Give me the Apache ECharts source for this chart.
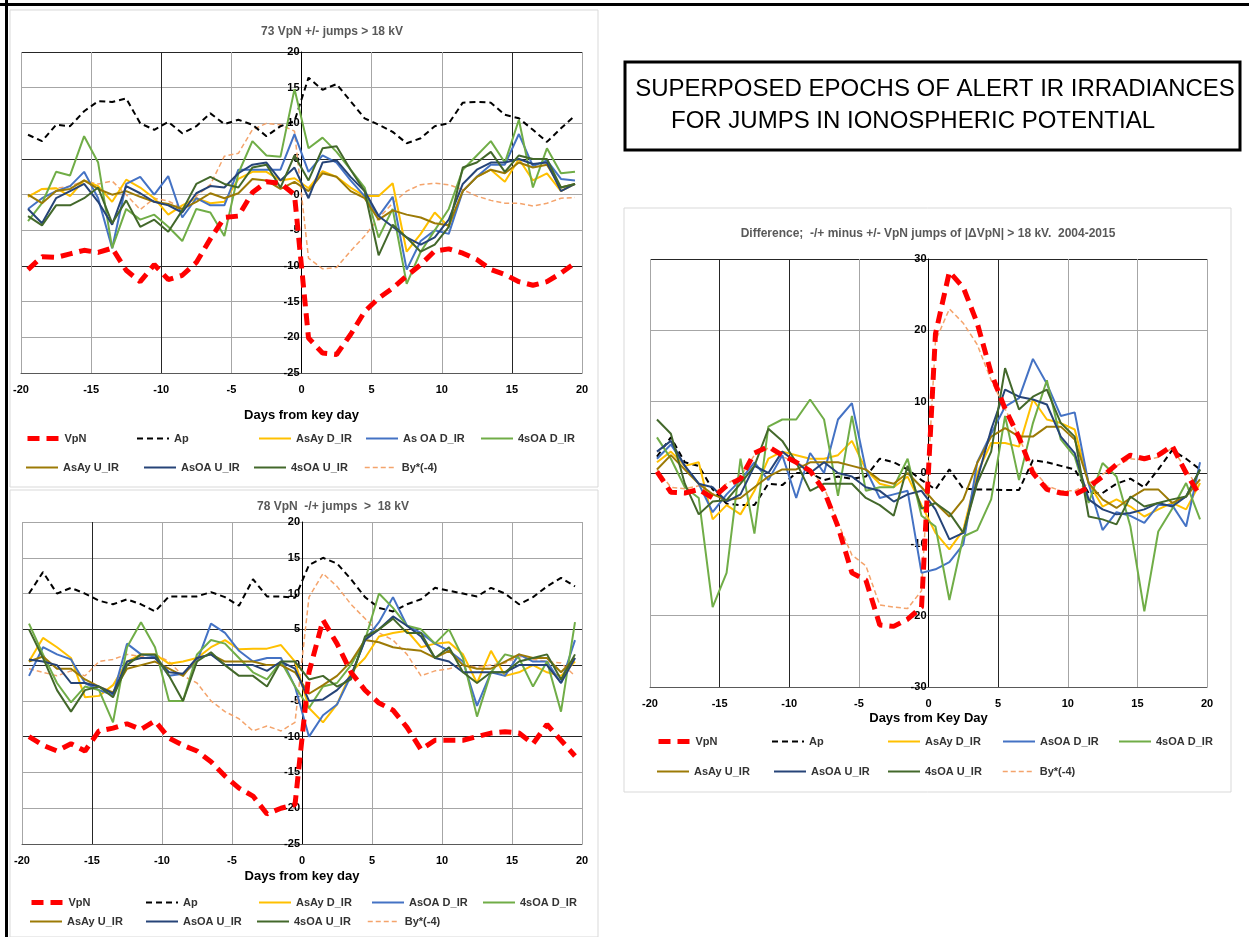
<!DOCTYPE html>
<html><head><meta charset="utf-8">
<script src="https://cdn.jsdelivr.net/npm/echarts@6/dist/echarts.min.js"></script>
<style>html,body{margin:0;padding:0;background:#fff}#c{width:1249px;height:937px}</style>
</head><body><div id="c"></div>
<script>
// ---------- DATA ----------
const days = [-19.5,-18.5,-17.5,-16.5,-15.5,-14.5,-13.5,-12.5,-11.5,-10.5,-9.5,-8.5,-7.5,-6.5,-5.5,-4.5,-3.5,-2.5,-1.5,-0.5,
              0.5,1.5,2.5,3.5,4.5,5.5,6.5,7.5,8.5,9.5,10.5,11.5,12.5,13.5,14.5,15.5,16.5,17.5,18.5,19.5];

const namesP1 = ['VpN','Ap','AsAy D_IR','As OA D_IR','4sOA D_IR','AsAy U_IR','AsOA U_IR','4sOA U_IR','By*(-4)'];
const namesP2 = ['VpN','Ap','AsAy D_IR','AsOA D_IR','4sOA D_IR','AsAy U_IR','AsOA U_IR','4sOA U_IR','By*(-4)'];
const namesP3 = namesP2;

const titleP1 = '73 VpN +/- jumps > 18 kV';
const titleP2 = '78 VpN  -/+ jumps  >  18 kV';
const titleP3 = 'Difference;  -/+ minus +/- VpN jumps of |\u0394VpN| > 18 kV.  2004-2015';
const xNameP12 = 'Days from key day';
const xNameP3 = 'Days from Key Day';
const bigTitle1 = 'SUPERPOSED EPOCHS OF ALERT IR IRRADIANCES';
const bigTitle2 = 'FOR JUMPS IN IONOSPHERIC POTENTIAL';

// Panel 1: 73 VpN +/- jumps
const vpn1   = [-10.5,-8.7,-8.8,-8.3,-7.8,-8.1,-7.5,-10.6,-12.2,-9.8,-11.9,-11.3,-9.5,-6.2,-3.2,-3.0,0.3,1.8,1.6,0.0,
                -20.1,-22.2,-22.4,-19.6,-16.4,-14.5,-13.1,-11.4,-9.8,-7.9,-7.6,-8.2,-9.1,-10.5,-11.2,-12.2,-12.7,-12.2,-11.0,-9.6];
const ap1    = [8.4,7.5,9.8,9.6,11.7,13.1,13.0,13.5,10.0,9.1,10.2,8.6,9.6,11.4,9.9,10.5,9.8,8.2,9.6,10.3,
                16.4,14.7,15.5,13.1,10.7,9.8,8.8,7.2,7.9,9.6,10.0,12.9,13.0,12.9,11.2,10.7,9.1,7.4,9.3,11.1];
const asayD1 = [-0.3,0.8,0.9,-0.2,2.0,1.2,-1.0,2.1,1.0,-0.5,-2.8,-1.5,-0.5,-1.2,-1.0,2.2,3.2,3.2,2.0,2.3,
                0.9,3.3,2.5,1.0,-0.2,-0.2,1.6,-8.0,-5.5,-2.5,-4.5,0.5,2.5,3.5,1.8,5.0,2.0,3.0,0.5,1.5];
const asoaD1 = [-2.0,-0.5,0.5,1.2,3.2,-0.5,-7.5,1.5,2.5,0.0,2.6,-3.2,-0.5,-1.5,-1.5,3.5,3.5,3.5,3.5,8.5,
                3.2,5.5,4.5,2.0,-0.2,-3.0,-0.3,-10.5,-6.5,-5.0,-5.5,0.5,2.5,4.2,4.2,8.5,4.0,4.8,2.2,2.0];
const fsoaD1 = [-3.7,-1.2,3.2,2.7,8.2,4.5,-7.5,-2.0,-3.5,-2.8,-4.5,-6.5,-2.0,-2.5,-5.8,3.0,7.5,5.5,5.3,14.8,
                6.5,8.0,6.0,3.5,1.0,-6.0,-2.0,-12.5,-8.0,-5.0,-2.0,3.5,5.5,7.5,4.5,10.5,1.0,6.5,3.0,3.2];
const asayU1 = [0.0,-1.2,0.5,0.8,2.0,0.8,0.0,0.5,-0.3,-1.0,-1.3,-2.0,-1.0,0.2,-0.5,0.2,2.2,2.0,0.8,1.8,
                0.5,3.0,2.5,0.5,-0.5,-3.5,-2.2,-2.8,-3.2,-4.0,-4.3,0.5,2.5,3.5,3.0,4.5,3.8,4.2,1.0,1.5];
const asoaU1 = [-2.0,-4.0,-0.5,0.5,1.5,-1.0,-4.2,1.2,0.2,-1.0,-1.5,-2.5,0.2,1.2,1.0,3.0,4.2,4.5,2.0,3.8,
                -0.5,4.5,4.8,2.5,0.5,-3.0,-4.5,-6.0,-7.0,-6.0,-3.5,1.5,3.5,4.5,4.5,5.0,4.3,4.5,0.5,1.5];
const fsoaU1 = [-3.0,-4.3,-1.5,-1.5,-0.5,1.0,-4.0,-0.8,-4.5,-3.5,-5.2,-2.2,1.5,2.5,1.5,1.0,3.8,4.2,1.0,5.5,
                2.0,6.5,6.8,3.5,0.5,-8.5,-4.2,-6.0,-8.0,-7.0,-4.5,3.8,4.5,6.0,3.2,5.5,5.0,5.0,1.0,1.5];
const by1    = [-0.2,0.7,0.9,1.2,1.9,1.5,1.9,0.0,-2.1,-0.5,-0.9,-1.9,-0.2,1.4,5.4,5.8,9.1,10.0,9.8,8.9,
                -8.9,-10.4,-10.2,-7.9,-5.8,-3.3,-1.2,0.5,1.4,1.6,1.4,0.7,-0.2,-0.8,-1.2,-1.2,-1.6,-1.2,-0.5,-0.4];

// Panel 2: 78 VpN -/+ jumps
const vpn2   = [-10.0,-11.2,-12.0,-11.0,-12.0,-9.2,-8.8,-8.2,-9.0,-7.8,-10.2,-11.2,-12.0,-13.5,-15.5,-17.2,-18.3,-20.8,-20.0,-19.5,
                -1.0,6.3,3.0,-1.0,-3.5,-5.3,-6.3,-8.7,-11.8,-10.5,-10.5,-10.5,-10.0,-9.5,-9.3,-9.5,-11.0,-8.3,-10.5,-12.7];
const ap2    = [10.0,13.0,10.0,10.8,10.0,9.0,8.5,9.2,8.5,7.5,9.6,9.6,9.6,10.2,9.5,8.3,12.0,9.6,9.6,9.4,
                14.0,15.0,14.2,12.0,9.5,8.0,7.5,8.5,9.2,10.8,10.4,10.0,9.6,10.8,10.0,8.5,9.5,11.0,12.2,11.0];
const asayD2 = [0.5,3.8,2.5,1.0,-4.5,-4.3,-2.8,0.5,1.5,1.5,0.2,0.5,1.0,2.5,3.5,2.2,2.3,2.3,2.8,0.5,
                -6.0,-8.0,-5.5,-1.0,1.0,4.0,4.5,4.8,2.5,3.0,3.2,1.5,-2.5,2.0,-1.5,-1.0,0.0,-1.0,-1.5,0.5];
const asoaD2 = [-1.5,2.5,1.5,0.8,-2.5,-3.5,-4.2,3.0,1.5,1.2,-1.5,-1.2,0.5,5.8,4.5,2.0,0.5,1.0,1.0,-3.0,
                -10.0,-7.0,-5.5,-1.5,3.5,6.0,9.5,5.5,4.5,3.0,2.0,0.5,-5.7,-1.0,-1.5,1.5,0.5,0.5,-2.5,3.5];
const fsoaD2 = [5.8,1.5,-2.5,-5.2,-3.0,-3.5,-8.0,2.5,6.0,2.5,-5.0,-5.0,1.5,3.5,3.0,1.0,-1.0,-2.0,0.5,-3.0,
                -6.0,-3.0,-2.5,0.0,3.5,10.0,8.0,5.5,5.0,3.0,5.0,1.0,-7.2,-1.0,1.5,1.0,-3.0,0.5,-6.5,6.0];
const asayU2 = [0.5,1.2,-0.5,-0.5,-2.0,-3.0,-3.8,-0.5,0.0,0.5,-0.5,-1.5,1.0,1.5,0.5,0.5,0.5,0.0,0.0,-1.0,
                -4.0,-2.8,-1.5,0.5,3.5,3.2,2.5,2.2,2.0,1.0,2.0,0.0,-0.5,-0.5,0.5,1.5,1.0,1.0,-1.0,1.0];
const asoaU2 = [0.8,0.5,0.0,-2.5,-2.5,-3.0,-4.0,0.5,1.0,1.0,-1.0,-1.2,1.0,1.5,0.0,0.0,0.0,-0.8,0.5,-0.5,
                -5.0,-4.8,-3.5,-1.5,3.5,5.0,6.8,5.5,4.0,1.0,0.5,-1.0,-1.0,-1.0,-1.0,0.0,0.0,0.0,-2.5,1.0];
const fsoaU2 = [5.0,1.0,-3.5,-6.5,-3.5,-3.0,-4.5,0.0,1.5,1.5,-1.5,-5.0,0.5,1.8,0.0,-1.5,-1.5,-3.0,0.5,0.5,
                -2.0,-1.5,-3.0,-2.0,4.0,5.0,6.5,4.5,4.5,1.0,2.5,-1.0,-2.5,-1.0,-1.0,0.5,1.0,1.5,-2.0,1.5];
const by2    = [-0.5,-1.0,-1.5,-0.8,-1.5,0.5,0.8,1.5,1.2,1.5,0.5,-1.5,-2.5,-5.0,-6.5,-7.5,-9.2,-8.5,-9.2,-8.0,
                9.5,12.8,11.0,8.5,6.5,4.5,3.5,1.5,-1.5,-0.8,-0.5,0.0,-0.3,0.0,0.3,1.2,0.8,0.5,0.3,-1.5];

// Panel 3: Difference
const vpn3   = [0.2,-2.7,-2.8,-2.3,-3.5,-1.8,-0.8,2.8,3.7,2.5,1.5,0.3,-2.5,-7.5,-14.0,-15.0,-21.3,-21.5,-20.5,-18.8,
                19.5,28.2,26.0,21.0,14.0,9.0,5.0,0.0,-2.3,-2.8,-3.0,-2.0,-0.5,1.2,2.5,2.0,2.5,3.8,0.0,-3.2];
const ap3    = [2.3,5.0,1.5,1.0,-2.3,-4.3,-4.5,-4.5,-1.5,-1.7,0.0,0.0,-1.0,-0.5,-0.8,-0.5,2.0,1.5,0.5,-1.0,
                -2.3,0.5,-2.2,-2.3,-2.3,-2.4,-2.4,1.8,1.5,1.0,0.5,-2.8,-2.8,-1.5,-0.8,-2.0,0.5,3.2,2.0,0.5];
const asayD3 = [1.5,3.0,1.0,1.5,-6.5,-4.5,-5.8,-2.5,2.0,3.0,2.5,2.0,2.0,2.5,4.5,0.5,-1.5,-2.0,-0.5,-4.5,
                -8.4,-10.7,-8.0,0.0,4.2,4.2,3.7,10.3,7.5,7.0,6.1,-1.4,-4.7,-3.7,-4.7,-6.1,-5.1,-4.2,-5.1,-1.4];
const asoaD3 = [2.0,4.0,1.0,-1.5,-5.5,-3.0,-1.0,1.5,-1.0,2.5,-3.5,2.8,0.0,7.5,9.8,0.5,-3.5,-3.0,-2.5,-14.0,
                -13.5,-12.5,-10.0,1.5,5.5,9.3,10.5,16.0,12.5,8.0,8.5,-1.5,-8.0,-5.5,-6.0,-7.0,-4.5,-4.5,-7.5,1.5];
const fsoaD3 = [5.0,2.0,-2.0,-3.5,-18.8,-14.0,2.0,-8.5,6.5,7.5,7.5,10.3,7.5,-3.2,8.0,-2.5,-2.0,-2.0,2.0,-6.0,
                -7.5,-17.8,-8.9,-8.0,-3.7,8.0,-1.0,7.0,13.0,4.7,2.3,-4.2,1.4,-0.5,-7.5,-19.4,-8.2,-5.0,-1.4,-6.5];
const asayU3 = [0.5,2.5,0.5,-1.5,-3.0,-3.8,-3.5,-2.0,-0.5,0.5,0.5,1.5,1.5,1.5,1.0,0.5,-1.0,-1.5,0.0,-2.0,
                -4.2,-6.1,-3.7,1.4,5.1,6.3,5.1,5.1,6.5,6.5,4.7,-1.4,-3.7,-4.9,-3.5,-2.3,-2.3,-4.2,-3.3,-0.9];
const asoaU3 = [3.0,4.5,1.0,-1.5,-2.0,-4.0,-3.0,1.0,0.0,3.0,1.5,0.0,1.5,0.0,-0.5,-2.0,-2.5,-4.0,-3.0,-2.5,
                -5.1,-9.3,-8.4,-0.9,6.1,11.7,10.7,10.3,9.6,5.1,2.8,-3.7,-5.1,-5.8,-5.6,-5.1,-4.2,-4.7,-3.3,0.5];
const fsoaU3 = [7.5,5.5,-1.5,-5.8,-4.0,-3.8,-1.5,1.0,6.2,4.5,1.5,-2.5,-1.5,-1.5,-1.5,-3.5,-4.5,-6.0,1.0,-5.0,
                -4.2,-5.6,-8.4,-1.4,3.0,14.7,8.9,10.7,11.7,7.0,5.1,-6.1,-6.5,-7.2,-3.3,-4.7,-4.2,-3.7,-3.3,0.5];
const by3    = [0.5,-2.0,-2.2,-1.8,-3.0,-1.5,-0.5,2.5,3.5,2.3,1.5,0.5,-2.0,-7.0,-11.5,-13.0,-18.5,-18.8,-19.0,-16.5,
                18.5,23.0,21.0,18.0,13.0,9.0,5.0,0.5,-1.8,-2.5,-2.5,-1.5,-0.2,1.0,2.0,1.8,2.2,3.5,0.5,-2.5];

// ---------- STYLE / LAYOUT ----------
const FONT = '"Liberation Sans", Arial, sans-serif';
const STYLE = [
  {color:'#FF0000', width:5, type:[12,7]},
  {color:'#000000', width:2, type:[6,4]},
  {color:'#FFC000', width:2, type:'solid'},
  {color:'#4472C4', width:2, type:'solid'},
  {color:'#70AD47', width:2, type:'solid'},
  {color:'#9C7A06', width:2, type:'solid'},
  {color:'#264478', width:2, type:'solid'},
  {color:'#43682B', width:2, type:'solid'},
  {color:'#F4A46C', width:1.5, type:[5,3]}
];
const G = '#a6a6a6', K = '#262626';

const panels = [
  {names:namesP1, data:[vpn1,ap1,asayD1,asoaD1,fsoaD1,asayU1,asoaU1,fsoaU1,by1],
   grid:{left:21, top:52, width:561, height:321}, ymin:-25, ymax:20, yint:5,
   xCols:[G,G,K,G,K,G,G,K,G], yCols:[K,G,G,K,G,G,K,G,G,K],
   xName:xNameP12, nameGap:36, title:titleP1, tx:332, ty:32,
   leg:[[25,440],[136,440],[258,440],[365,440],[480,440],[25,469],[143,469],[253,469],[364,469]]},
  {names:namesP2, data:[vpn2,ap2,asayD2,asoaD2,fsoaD2,asayU2,asoaU2,fsoaU2,by2],
   grid:{left:22, top:522, width:560, height:322}, ymin:-25, ymax:20, yint:5,
   xCols:[G,K,G,G,K,G,G,G,G], yCols:[G,G,G,K,G,K,K,G,G,G],
   xName:xNameP12, nameGap:26, title:titleP2, tx:333, ty:507,
   leg:[[29,904],[145,904],[258,904],[371,904],[482,904],[29,923],[145,923],[256,923],[367,923]]},
  {names:namesP3, data:[vpn3,ap3,asayD3,asoaD3,fsoaD3,asayU3,asoaU3,fsoaU3,by3],
   grid:{left:650, top:259, width:557, height:428}, ymin:-30, ymax:30, yint:10,
   xCols:[G,K,K,G,K,K,G,G,G], yCols:[G,G,G,K,G,G,K],
   xName:xNameP3, nameGap:25, title:titleP3, tx:928, ty:234,
   leg:[[656,743],[771,743],[887,743],[1002,743],[1118,743],[656,773],[773,773],[887,773],[1002,773]]}
];

const grids=[], xAxes=[], yAxes=[], series=[], legends=[], graphics=[];
panels.forEach((p, pi) => {
  grids.push(Object.assign({containLabel:false}, p.grid));
  xAxes.push({
    type:'value', gridIndex:pi, min:-20, max:20, interval:5,
    axisLine:{onZero:false, lineStyle:{color:'#595959', width:1}},
    axisTick:{show:false},
    axisLabel:{color:'#000', fontWeight:'bold', fontSize:11, fontFamily:FONT, margin:11},
    splitLine:{show:true, lineStyle:{color:p.xCols, width:1}},
    name:p.xName, nameLocation:'middle', nameGap:p.nameGap,
    nameTextStyle:{color:'#000', fontWeight:'bold', fontSize:13, fontFamily:FONT}
  });
  yAxes.push({
    type:'value', gridIndex:pi, min:p.ymin, max:p.ymax, interval:p.yint,
    position:'left', offset: -p.grid.width / 2,
    axisLine:{show:true, onZero:false, lineStyle:{color:'#000', width:1}},
    axisTick:{show:false},
    axisLabel:{color:'#000', fontWeight:'bold', fontSize:11, fontFamily:FONT, margin:2},
    splitLine:{show:true, lineStyle:{color:p.yCols, width:1}}
  });
  p.data.forEach((arr, i) => {
    series.push({
      type:'line', name:p.names[i], xAxisIndex:pi, yAxisIndex:pi,
      data: days.map((d, k) => [d, arr[k]]),
      symbol:'none', showSymbol:false, z: i === 0 ? 5 : (i === 8 ? 3 : 4),
      lineStyle:Object.assign({}, STYLE[i]), itemStyle:{color:STYLE[i].color},
      silent:true, animation:false
    });
    legends.push({
      data:[p.names[i]], left:p.leg[i][0], top:p.leg[i][1] - 7, padding:0,
      itemWidth:32, itemHeight:12, itemGap:0, selectedMode:false,
      itemStyle:{opacity:0}, lineStyle:{width:'inherit'},
      textStyle:{color:'#333', fontWeight:'bold', fontSize:11, fontFamily:FONT}
    });
  });
  graphics.push({type:'text', x:p.tx, y:p.ty, silent:true,
    style:{text:p.title, fill:'#595959', font:'bold 12px ' + FONT, textAlign:'center', textVerticalAlign:'middle'}});
});

// frames
graphics.push(
  {type:'rect', shape:{x:10,y:10,width:588,height:477}, style:{fill:'none', stroke:'#d9d9d9', lineWidth:1}, z:-10, silent:true},
  {type:'rect', shape:{x:10,y:490,width:588,height:447}, style:{fill:'none', stroke:'#d9d9d9', lineWidth:1}, z:-10, silent:true},
  {type:'rect', shape:{x:624,y:208,width:607,height:584}, style:{fill:'none', stroke:'#d9d9d9', lineWidth:1}, z:-10, silent:true},
  {type:'line', shape:{x1:0,y1:4.5,x2:1249,y2:4.5}, style:{stroke:'#000', lineWidth:3}, silent:true},
  {type:'line', shape:{x1:6.5,y1:0,x2:6.5,y2:937}, style:{stroke:'#000', lineWidth:3}, silent:true},
  {type:'rect', shape:{x:625,y:62,width:615,height:88}, style:{fill:'#fff', stroke:'#000', lineWidth:3}, silent:true},
  {type:'text', x:935, y:89, silent:true, style:{text:bigTitle1, fill:'#000', font:'24px ' + FONT, textAlign:'center', textVerticalAlign:'middle'}},
  {type:'text', x:913, y:121, silent:true, style:{text:bigTitle2, fill:'#000', font:'24px ' + FONT, textAlign:'center', textVerticalAlign:'middle'}}
);

const chart = echarts.init(document.getElementById('c'), null, {renderer:'canvas'});
chart.setOption({
  animation:false,
  backgroundColor:'#ffffff',
  grid:grids, xAxis:xAxes, yAxis:yAxes, series:series, legend:legends,
  graphic:{elements:graphics}
});
</script></body></html>
